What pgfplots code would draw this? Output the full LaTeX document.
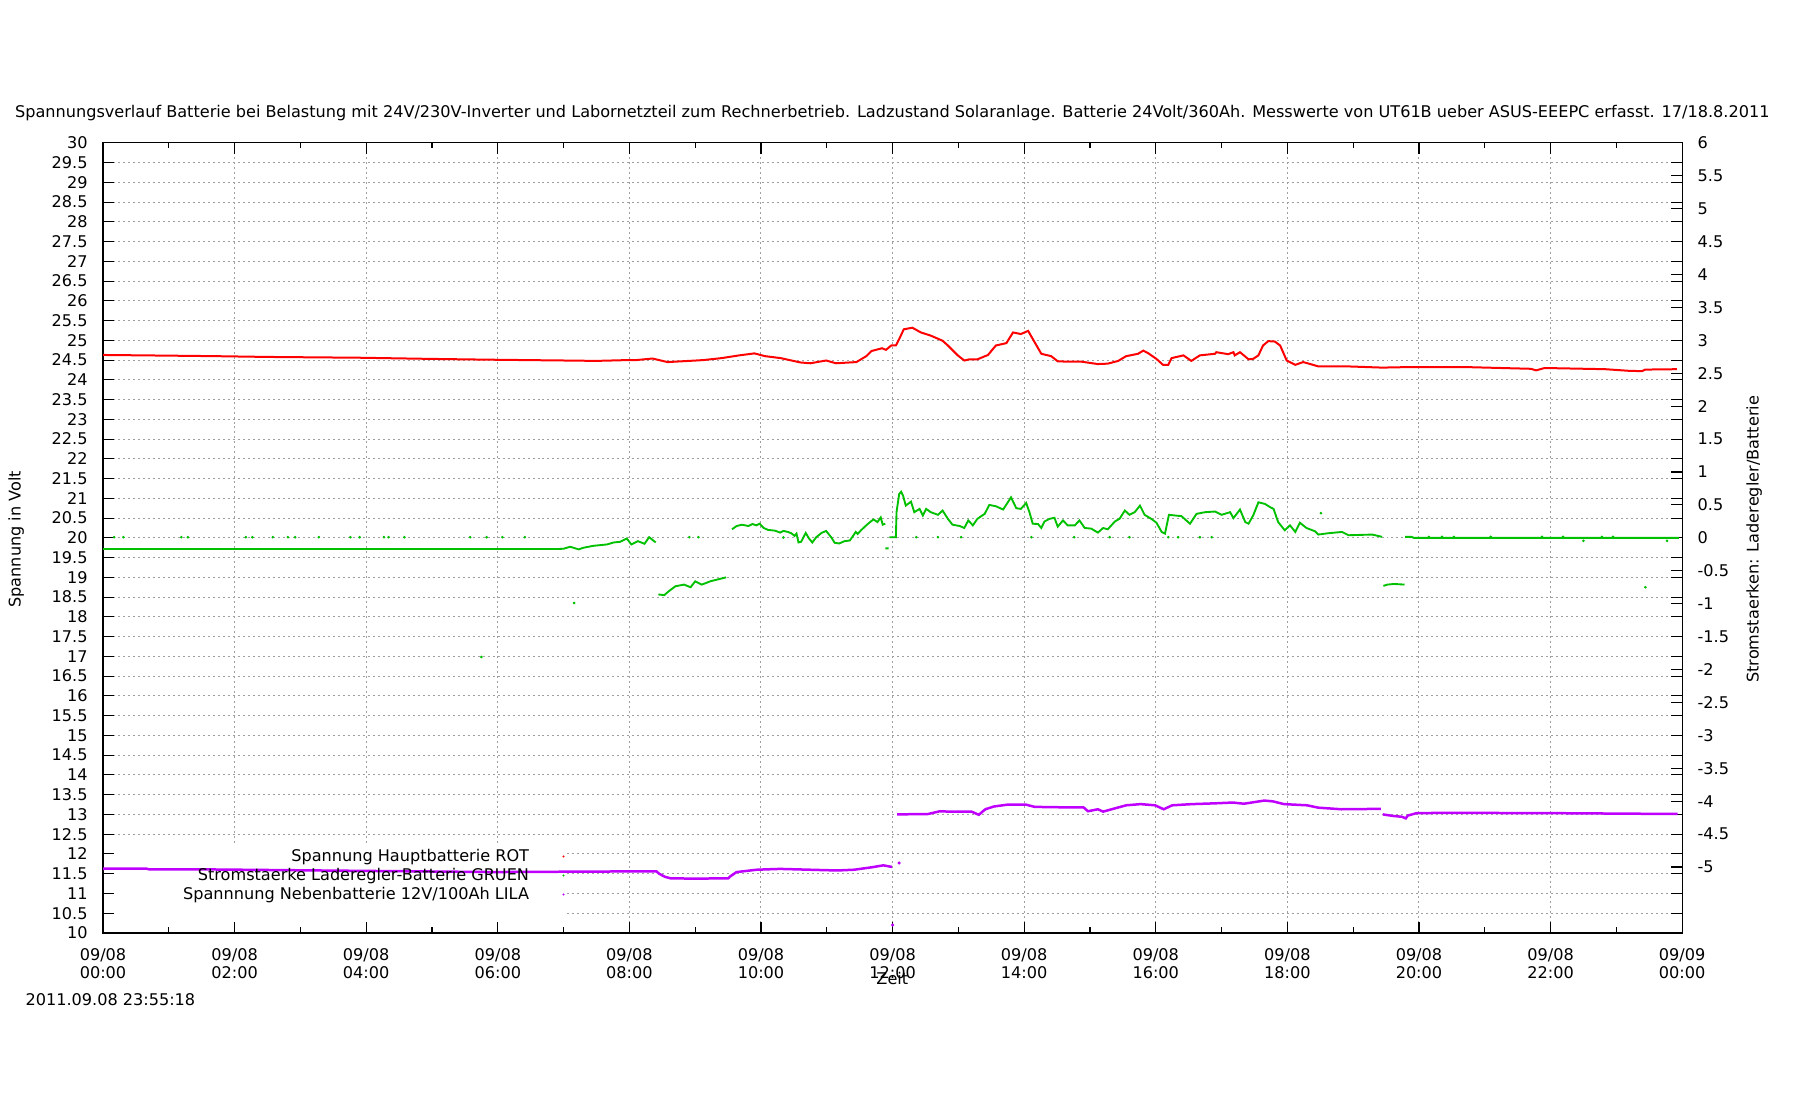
\documentclass[border=0pt]{standalone}
\usepackage{pgfplots}
\pgfplotsset{compat=1.18}
\usepackage{fontspec}
\setmainfont{DejaVu Sans}
\definecolor{gpred}{RGB}{255,0,0}
\definecolor{gpgreen}{RGB}{0,192,0}
\definecolor{gppurple}{RGB}{192,0,255}
\newcommand{\gpfont}{\fontsize{6.45}{7.3}\selectfont}
\pgfplotsset{
 layers/gnu/.define layer set={axis background,axis grid,pre main,axis ticks,axis lines,axis tick labels,main,axis descriptions,axis foreground}{
  grid style={/pgfplots/on layer=axis grid},
  tick style={/pgfplots/on layer=axis ticks},
  axis line style={/pgfplots/on layer=axis lines},
  label style={/pgfplots/on layer=axis descriptions},
  legend style={/pgfplots/on layer=axis descriptions},
  title style={/pgfplots/on layer=axis descriptions},
  colorbar style={/pgfplots/on layer=axis descriptions},
  ticklabel style={/pgfplots/on layer=axis tick labels},
  axis background@ style={/pgfplots/on layer=axis background},
  3d box foreground style={/pgfplots/on layer=axis foreground},
 },
 gpbase/.style={
  set layers=gnu,
  at={(40.4pt,66.4pt)}, anchor=south west,
  width=632.4pt, height=316.4pt, scale only axis,
  xmin=0, xmax=24,
  tick align=inside,
  major tick length=4.4pt, minor tick length=2.2pt,
  tick style={black, line width=0.45pt},
  axis line style={line width=0.5pt},
  tick label style={font=\gpfont},
  unbounded coords=jump,
 },
}
\begin{document}
\begin{tikzpicture}
\path (0,0) rectangle (720pt,440pt);
\begin{axis}[gpbase,
  ymin=10, ymax=30,
  xtick={0,2,...,24}, minor xtick={1,3,...,23},
  xticklabels={09/08\\00:00,09/08\\02:00,09/08\\04:00,09/08\\06:00,09/08\\08:00,09/08\\10:00,09/08\\12:00,09/08\\14:00,09/08\\16:00,09/08\\18:00,09/08\\20:00,09/08\\22:00,09/09\\00:00},
  xticklabel style={align=center, anchor=north, inner sep=0pt, yshift=-5.9pt},
  xtick pos=both, xticklabel pos=bottom,
  ytick={10,10.5,...,30},
  yticklabels={10,10.5,11,11.5,12,12.5,13,13.5,14,14.5,15,15.5,16,16.5,17,17.5,18,18.5,19,19.5,20,20.5,21,21.5,22,22.5,23,23.5,24,24.5,25,25.5,26,26.5,27,27.5,28,28.5,29,29.5,30},
  yticklabel style={anchor=east, inner sep=0pt, xshift=-6pt},
  ytick pos=both, yticklabel pos=left,
  grid=major,
  major grid style={gray!75, line width=0.4pt, dash pattern=on 0.8pt off 1.2pt},
  legend style={at={(axis description cs:0.2954,0.108)}, anchor=north east, draw=none, fill=none,
    inner sep=0pt, row sep=0.8pt, column sep=0pt, font=\gpfont,
    nodes={inner sep=0pt, text height=5.2pt, text depth=1.6pt}},
  legend cell align=right,
  legend plot pos=right,
  legend image code/.code={\path[draw=none, fill=none] (0pt,-1pt) rectangle (16pt,1pt); \path[draw=none, fill=.] (13.8pt,0pt) circle (0.45pt);},
]
% key area: clears the grid only
\addplot[fill=white, draw=none, on layer=pre main, forget plot] coordinates {(0.03,10.03) (7.04,10.03) (7.04,12.28) (0.03,12.28)};
% Spannung Hauptbatterie (rot)
\addplot[gpred, line width=0.8pt] coordinates {
(0,24.63) (0.6,24.62) (1.7,24.6) (2.5,24.58) (3.9,24.56) (5.0,24.53) (5.9,24.51) (7.0,24.49) (7.5,24.48) (7.96,24.5) (8.1,24.5) (8.35,24.54) (8.58,24.45) (8.8,24.47) (9.12,24.5) (9.4,24.55) (9.67,24.62) (9.9,24.67) (10.06,24.6) (10.3,24.55) (10.6,24.44) (10.75,24.42) (10.99,24.49) (11.14,24.42) (11.45,24.45) (11.6,24.6) (11.68,24.73) (11.84,24.8) (11.9,24.76) (11.98,24.87) (12.05,24.87) (12.1,25.03) (12.17,25.28) (12.3,25.32) (12.43,25.2) (12.58,25.12) (12.76,24.99) (12.84,24.87) (12.99,24.62) (13.09,24.49) (13.17,24.52) (13.29,24.52) (13.45,24.63) (13.57,24.87) (13.73,24.93) (13.83,25.2) (13.95,25.16) (14.06,25.24) (14.16,24.95) (14.26,24.66) (14.41,24.6) (14.51,24.47) (14.66,24.46) (14.87,24.46) (15.12,24.4) (15.27,24.41) (15.43,24.48) (15.55,24.6) (15.73,24.66) (15.81,24.74) (15.88,24.68) (16.01,24.53) (16.11,24.38) (16.19,24.38) (16.24,24.55) (16.42,24.62) (16.54,24.48) (16.67,24.62) (16.9,24.66) (16.92,24.7) (17.1,24.65) (17.18,24.7) (17.2,24.62) (17.28,24.7) (17.41,24.52) (17.48,24.53) (17.56,24.62) (17.63,24.87) (17.71,24.98) (17.81,24.97) (17.89,24.87) (17.99,24.49) (18.12,24.38) (18.24,24.45) (18.37,24.39) (18.47,24.34) (18.93,24.34) (19.44,24.31) (19.74,24.32) (20.79,24.32) (21.7,24.28) (21.78,24.24) (21.91,24.3) (22.83,24.27) (23.18,24.23) (23.39,24.22) (23.44,24.26) (23.92,24.27)
};
\addlegendentry{Spannung Hauptbatterie ROT}
\addlegendimage{gpgreen}
\addlegendentry{Stromstaerke Laderegler-Batterie GRUEN}
% Spannung Nebenbatterie (lila)
\addplot[gppurple, line width=1.0pt] coordinates {
(0,11.63) (0.65,11.63) (0.7,11.61) (1.4,11.61) (3.3,11.58) (5.92,11.54) (8.41,11.56) (8.45,11.5) (8.54,11.42) (8.63,11.38) (8.98,11.375) (9.5,11.38) (9.54,11.44) (9.63,11.54) (9.94,11.6) (10.29,11.62) (11.16,11.58) (11.42,11.6) (11.68,11.66) (11.86,11.71) (11.99,11.67)
(12.03,nan)
(12.07,13.0) (12.54,13.01) (12.72,13.08) (12.85,13.07) (13.2,13.07) (13.31,12.99) (13.41,13.13) (13.54,13.2) (13.76,13.25) (14.02,13.25) (14.16,13.19) (14.55,13.18) (14.9,13.18) (14.97,13.08) (15.12,13.13) (15.2,13.07) (15.33,13.13) (15.55,13.23) (15.77,13.26) (15.99,13.23) (16.12,13.13) (16.25,13.23) (16.55,13.26) (16.9,13.28) (17.17,13.3) (17.34,13.27) (17.65,13.35) (17.78,13.33) (17.95,13.26) (18.3,13.23) (18.47,13.17) (18.82,13.13) (19.42,13.14)
(19.44,nan)
(19.45,13.0) (19.61,12.96) (19.74,12.94) (19.8,12.9) (19.83,12.97) (19.96,13.03) (20.39,13.04) (22.14,13.03) (23.93,13.01)
};
\addlegendentry{Spannnung Nebenbatterie 12V/100Ah LILA}
\addplot[gppurple, only marks, mark=*, mark size=0.4pt, forget plot] coordinates {(12.1,11.77) (12.0,10.2)};
\end{axis}
% Stromstaerke (gruen), rechte Achse
\begin{axis}[gpbase,
  ymin=-6, ymax=6,
  axis x line=none, axis y line*=right,
  ytick={-5,-4.5,...,6},
  yticklabels={-5,-4.5,-4,-3.5,-3,-2.5,-2,-1.5,-1,-0.5,0,0.5,1,1.5,2,2.5,3,3.5,4,4.5,5,5.5,6},
  yticklabel style={anchor=west, inner sep=0pt, xshift=6pt},
  ytick pos=right, yticklabel pos=right,
]
\addplot[gpgreen, line width=0.75pt] coordinates {
(0,-0.17) (3,-0.17) (6.9,-0.17) (7.0,-0.165) (7.1,-0.135) (7.23,-0.175) (7.3,-0.15) (7.46,-0.12) (7.66,-0.1) (7.76,-0.07) (7.86,-0.06) (7.96,-0.01) (8.03,-0.1) (8.13,-0.05) (8.23,-0.09) (8.3,0.01) (8.4,-0.07)
(8.42,nan)
(8.44,-0.86) (8.53,-0.87) (8.6,-0.81) (8.7,-0.735) (8.83,-0.71) (8.93,-0.75) (9.0,-0.66) (9.1,-0.71) (9.23,-0.66) (9.33,-0.635) (9.47,-0.6)
(9.5,nan)
(9.56,0.13) (9.63,0.18) (9.71,0.2) (9.81,0.18) (9.87,0.21) (9.93,0.19) (9.98,0.215) (10.04,0.15) (10.11,0.12) (10.21,0.11) (10.29,0.08) (10.34,0.105) (10.41,0.09) (10.46,0.07) (10.51,0.03) (10.54,0.065) (10.57,-0.07) (10.61,-0.06) (10.68,0.075) (10.73,-0.01) (10.78,-0.07) (10.84,0.01) (10.92,0.075) (10.99,0.105) (11.07,0.005) (11.12,-0.075) (11.19,-0.085) (11.27,-0.05) (11.35,-0.04) (11.4,0.03) (11.44,0.09) (11.47,0.06) (11.52,0.115) (11.6,0.19) (11.67,0.25) (11.71,0.28) (11.77,0.24) (11.82,0.31) (11.85,0.2) (11.89,0.215)
(11.9,nan)
(11.89,-0.16) (11.94,-0.16)
(11.945,nan)
(11.95,0.01) (12.05,0.01) (12.06,0.39) (12.1,0.665) (12.13,0.7) (12.16,0.64) (12.2,0.49) (12.28,0.55) (12.33,0.39) (12.41,0.44) (12.46,0.34) (12.51,0.44) (12.58,0.39) (12.69,0.35) (12.76,0.415) (12.84,0.29) (12.91,0.2) (13.02,0.18) (13.09,0.15) (13.15,0.265) (13.22,0.19) (13.29,0.29) (13.4,0.365) (13.47,0.5) (13.57,0.48) (13.68,0.43) (13.8,0.615) (13.88,0.45) (13.95,0.44) (14.03,0.53) (14.08,0.39) (14.13,0.215) (14.21,0.21) (14.26,0.15) (14.31,0.25) (14.39,0.29) (14.46,0.305) (14.51,0.17) (14.59,0.265) (14.66,0.19) (14.77,0.19) (14.84,0.265) (14.92,0.15) (15.02,0.14) (15.12,0.08) (15.2,0.15) (15.27,0.13) (15.38,0.25) (15.45,0.29) (15.53,0.415) (15.6,0.35) (15.68,0.39) (15.76,0.49) (15.83,0.35) (15.93,0.29) (16.01,0.23) (16.09,0.09) (16.14,0.065) (16.2,0.35) (16.29,0.34) (16.39,0.33) (16.52,0.215) (16.62,0.365) (16.75,0.39) (16.9,0.4) (17.0,0.35) (17.13,0.39) (17.18,0.3) (17.28,0.43) (17.36,0.24) (17.41,0.215) (17.48,0.34) (17.56,0.54) (17.66,0.515) (17.74,0.465) (17.79,0.44) (17.86,0.24) (17.96,0.115) (18.04,0.19) (18.12,0.09) (18.19,0.23) (18.29,0.15) (18.42,0.1) (18.47,0.05) (18.62,0.07) (18.83,0.09) (18.93,0.04) (19.29,0.05) (19.44,0.015)
(19.45,nan)
(19.46,-0.73) (19.52,-0.71) (19.62,-0.7) (19.78,-0.71)
(19.785,nan)
(19.79,0.015) (19.89,0.015) (19.92,0.0) (23.95,0.0)
};
\addplot[gpgreen, only marks, mark=*, mark size=0.3pt] coordinates {
(0.17,0.01) (0.31,0.01) (1.19,0.01) (1.29,0.01) (2.17,0.01) (2.27,0.01) (2.58,0.01) (2.81,0.01) (2.92,0.01) (3.28,0.01) (3.76,0.01) (3.9,0.01) (4.27,0.01) (4.34,0.01) (4.58,0.01) (5.58,0.01) (5.83,0.01) (6.07,0.01) (6.41,0.01) (8.91,0.01) (9.05,0.01) (10.34,0.005)
(7.16,-0.99) (5.75,-1.81)
(12.36,0.01) (12.69,0.01) (13.04,0.01) (14.11,0.01) (14.76,0.01) (15.3,0.01) (15.6,0.01) (16.19,0.01) (16.34,0.01) (16.67,0.01) (16.85,0.01) (18.51,0.375)
(20.15,0.015) (20.35,0.015) (20.53,0.015) (21.09,0.015) (21.87,0.015) (22.19,0.015) (22.78,0.015) (22.95,0.015) (22.5,-0.045) (23.77,-0.045) (23.44,-0.75)
};
\end{axis}
\node[font=\gpfont, anchor=center] at (356.5pt,394.6pt) {Spannungsverlauf Batterie bei Belastung mit 24V/230V-Inverter und Labornetzteil zum Rechnerbetrieb. Ladzustand Solaranlage. Batterie 24Volt/360Ah. Messwerte von UT61B ueber ASUS-EEEPC erfasst. 17/18.8.2011};
\node[font=\gpfont, rotate=90, anchor=center] at (5.6pt,224pt) {Spannung in Volt};
\node[font=\gpfont, rotate=90, anchor=center] at (701.6pt,224pt) {Stromstaerken: Laderegler/Batterie};
\node[font=\gpfont, anchor=center] at (356.5pt,48pt) {Zeit};
\node[font=\gpfont, anchor=west, inner sep=0pt] at (9.2pt,39.6pt) {2011.09.08 23:55:18};
\end{tikzpicture}
\end{document}
